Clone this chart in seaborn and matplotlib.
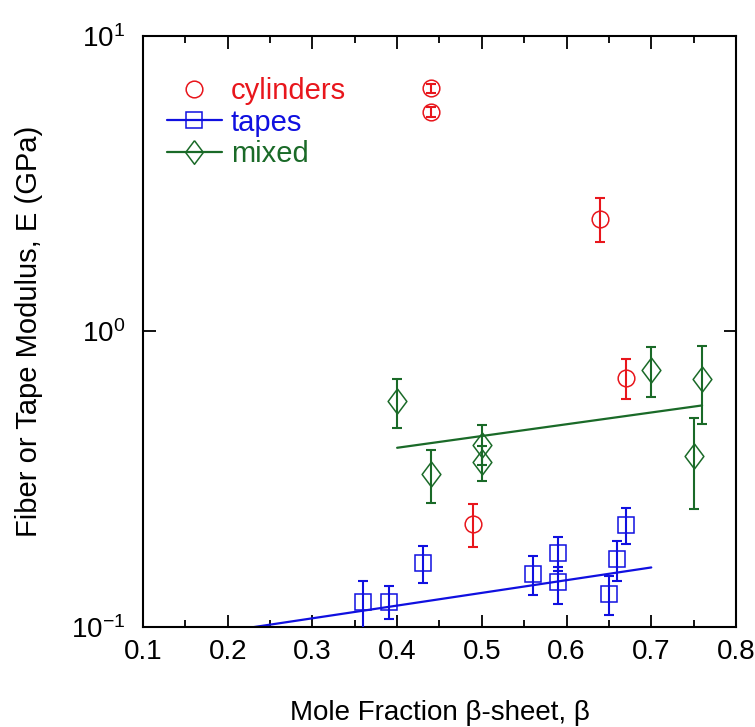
import numpy as np
import pandas as pd
import matplotlib.pyplot as plt
import seaborn as sns
from matplotlib.lines import Line2D
from matplotlib.ticker import MultipleLocator, LogLocator, NullLocator, LogFormatterSciNotation

sns.set_theme(style="ticks")
plt.rcParams['font.family'] = ['Liberation Sans', 'DejaVu Sans']
plt.rcParams['mathtext.default'] = 'regular'
plt.rcParams['text.color'] = 'black'
plt.rcParams['axes.labelcolor'] = 'black'

# cylinders
cyl_beta = [0.44, 0.44, 0.64, 0.67, 0.49]
cyl_E = [6.65, 5.51, 2.40, 0.698, 0.223]
cyl_lo = [6.40, 5.30, 2.01, 0.590, 0.187]
cyl_hi = [6.90, 5.75, 2.83, 0.805, 0.261]

# tapes
tape_beta = [0.36, 0.39, 0.43, 0.56, 0.59, 0.59, 0.65, 0.66, 0.67]
tape_E = [0.1216, 0.1216, 0.1645, 0.1513, 0.1775, 0.1415, 0.1294, 0.1698, 0.2213]
tape_lo = [0.097, 0.106, 0.141, 0.128, 0.155, 0.1197, 0.110, 0.143, 0.1905]
tape_hi = [0.143, 0.1374, 0.188, 0.174, 0.202, 0.160, 0.1487, 0.196, 0.252]

# mixed
mix_beta = [0.40, 0.44, 0.50, 0.50, 0.70, 0.76, 0.75]
mix_E = [0.581, 0.330, 0.414, 0.361, 0.739, 0.692, 0.379]
mix_lo = [0.472, 0.263, 0.354, 0.313, 0.600, 0.486, 0.251]
mix_hi = [0.689, 0.398, 0.482, 0.409, 0.883, 0.895, 0.508]

# fit lines
tape_fit_beta = [0.20, 0.70]
tape_fit_E = [0.0969, 0.159]
mix_fit_beta = [0.40, 0.76]
mix_fit_E = [0.404, 0.562]

red = '#e8161c'
blue = '#1010e0'
green = '#1a6a28'
diamond = [(0, 1), (0.75, 0), (0, -1), (-0.75, 0), (0, 1)]

fig = plt.figure(figsize=(7.55, 7.27), dpi=100)
ax = fig.add_axes([0.1894, 0.1376, 0.7854, 0.8129])

fits = pd.DataFrame({
    "beta": tape_fit_beta + mix_fit_beta,
    "E": tape_fit_E + mix_fit_E,
    "group": ["tapes"] * 2 + ["mixed"] * 2,
})
sns.lineplot(data=fits, x="beta", y="E", hue="group",
             palette={"tapes": blue, "mixed": green}, lw=1.6, legend=False, ax=ax)

def draw(beta, E, lo, hi, color, marker, ms):
    E = np.array(E)
    err = [E - np.array(lo), np.array(hi) - E]
    ax.errorbar(beta, E, yerr=err, fmt='none', ecolor=color, elinewidth=1.5,
                capsize=3.5, capthick=1.5, zorder=3)
    ax.plot(beta, E, ls='none', marker=marker, ms=ms, mfc='none', mec=color,
            mew=1.1, zorder=4)

draw(cyl_beta, cyl_E, cyl_lo, cyl_hi, red, 'o', 12)
draw(tape_beta, tape_E, tape_lo, tape_hi, blue, 's', 12)
draw(mix_beta, mix_E, mix_lo, mix_hi, green, diamond, 18)

ax.set_yscale('log')
ax.set_xlim(0.1, 0.8)
ax.set_ylim(0.1, 10)
ax.xaxis.set_major_locator(MultipleLocator(0.1))
ax.xaxis.set_minor_locator(MultipleLocator(0.05))
ax.yaxis.set_major_locator(LogLocator(base=10))
ax.yaxis.set_minor_locator(NullLocator())
ax.yaxis.set_major_formatter(LogFormatterSciNotation())
ax.tick_params(which='both', direction='in', top=True, right=True,
               labelsize=20, colors='black', width=1.3)
ax.tick_params(axis='x', pad=9)
ax.tick_params(axis='y', pad=13)
ax.tick_params(which='major', length=9)
ax.tick_params(which='minor', length=5)
for s in ax.spines.values():
    s.set_visible(True)
    s.set_linewidth(1.5)
    s.set_color('black')

ax.set_xlabel("Mole Fraction β-sheet, β", fontsize=20, labelpad=25)
ax.set_ylabel("Fiber or Tape Modulus, E (GPa)", fontsize=21, labelpad=20)

handles = [
    Line2D([], [], ls='none', marker='o', ms=12, mfc='none', mec=red, mew=1.1),
    Line2D([], [], color=blue, lw=1.6, marker='s', ms=12, mfc='none', mec=blue, mew=1.1),
    Line2D([], [], color=green, lw=1.6, marker=diamond, ms=17, mfc='none', mec=green, mew=1.1),
]
leg = ax.legend(handles, ["cylinders", "tapes", "mixed"], loc='upper left',
                bbox_to_anchor=(0.02, 0.95), frameon=False, fontsize=21,
                handlelength=1.9, handletextpad=0.3, labelspacing=0.12,
                borderaxespad=0)
for t, c in zip(leg.get_texts(), [red, blue, green]):
    t.set_color(c)

fig.savefig("out.png", dpi=100)
